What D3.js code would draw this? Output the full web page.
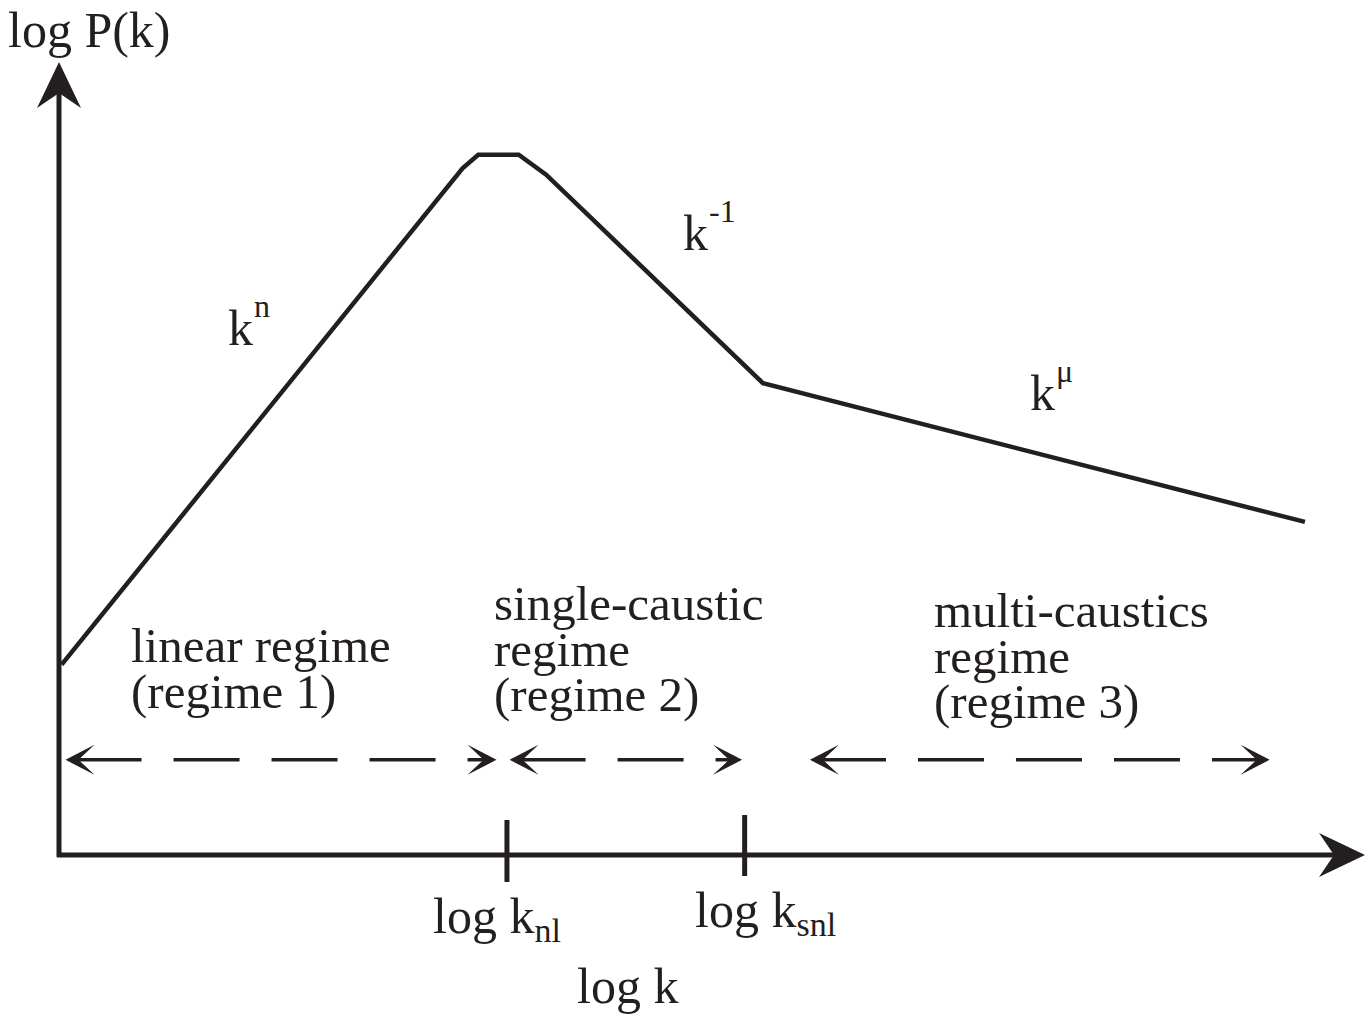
<!DOCTYPE html>
<html>
<head>
<meta charset="utf-8">
<script src="https://cdn.jsdelivr.net/npm/d3@7"></script>
<style>
  body { margin: 0; background: #fff; }
  text { font-family: "Liberation Serif", "Times New Roman", serif; fill: #231f20; }
</style>
</head>
<body>
<svg id="chart"></svg>
<script>
// schematic power spectrum, in arbitrary log units (0..100 on both axes)
const curveX = [0.2, 30.9, 32.1, 35.2, 37.3, 41.4, 53.9, 95.4];
const curveY = [24.0, 86.6, 88.3, 88.3, 85.8, 79.3, 59.5, 42.0];

const tickX = [34.3, 52.5];
const tickSubs = ["nl", "snl"];

const regimeFrom = [0.5, 34.5, 57.5];
const regimeTo = [33.5, 52.3, 92.7];
const regimeLevel = 12.0;
const regimeLines = [
  ["linear regime", "(regime 1)"],
  ["single-caustic", "regime", "(regime 2)"],
  ["multi-caustics", "regime", "(regime 3)"],
];

const slopeExps = ["n", "-1", "\u03BC"];

const ink = "#231f20";

const chart = {
  width: 1372,
  height: 1025,
  margin: { top: 62, right: 7, bottom: 170, left: 59 },
};

let x = d3.scaleLinear()
  .domain([0, 100])
  .range([chart.margin.left, chart.width - chart.margin.right]);

let y = d3.scaleLinear()
  .domain([0, 100])
  .range([chart.height - chart.margin.bottom, chart.margin.top]);

const svg = d3.select("#chart")
  .attr("width", chart.width)
  .attr("height", chart.height)
  .attr("viewBox", [0, 0, chart.width, chart.height]);

// barbed arrowhead pointing along angle (deg), tip at (tx, ty)
function arrowHead(g, tx, ty, angle, len, half, notch) {
  g.append("path")
    .attr("d", `M0,0 L${-len},${-half} L${-notch},0 L${-len},${half} Z`)
    .attr("transform", `translate(${tx},${ty}) rotate(${angle})`)
    .attr("fill", ink);
}

// axes
const axes = svg.append("g");
axes.append("line")
  .attr("x1", x(0)).attr("y1", y(0) + 2)
  .attr("x2", x(0)).attr("y2", y(100) + 25)
  .attr("stroke", ink).attr("stroke-width", 5);
axes.append("line")
  .attr("x1", x(0) - 2).attr("y1", y(0))
  .attr("x2", x(100) - 25).attr("y2", y(0))
  .attr("stroke", ink).attr("stroke-width", 5);
arrowHead(axes, x(0), y(100), -90, 46, 22, 31);
arrowHead(axes, x(100), y(0), 0, 46, 22, 31);

// tick marks on the k axis
svg.append("g")
  .selectAll("line")
  .data(tickX)
  .join("line")
  .attr("x1", d => x(d)).attr("x2", d => x(d))
  .attr("y1", (d, i) => y(0) - (i ? 40 : 35))
  .attr("y2", (d, i) => y(0) + (i ? 21 : 27))
  .attr("stroke", ink).attr("stroke-width", 5);

// the spectrum
const line = d3.line()
  .x(d => x(d[0]))
  .y(d => y(d[1]));

svg.append("path")
  .datum(d3.zip(curveX, curveY))
  .attr("d", line)
  .attr("fill", "none")
  .attr("stroke", ink)
  .attr("stroke-width", 4.5)
  .attr("stroke-linejoin", "miter");

// dashed double arrows for each regime
const regimes = svg.append("g");
regimeFrom.forEach((from, i) => {
  const x0 = x(from), x1 = x(regimeTo[i]), yy = y(regimeLevel);
  regimes.append("line")
    .attr("x1", x0 + 10).attr("x2", x1 - 10)
    .attr("y1", yy).attr("y2", yy)
    .attr("stroke", ink).attr("stroke-width", 3.5)
    .attr("stroke-dasharray", "66,32");
  arrowHead(regimes, x0, yy, 180, 29, 15, 13);
  arrowHead(regimes, x1, yy, 0, 29, 15, 13);
});

// regime labels
const labelPos = [[131, 662], [494, 620], [934, 627]];
regimeLines.forEach((lines, i) => {
  const t = svg.append("text")
    .attr("x", labelPos[i][0])
    .attr("y", labelPos[i][1])
    .attr("font-size", 49);
  lines.forEach((s, j) => {
    t.append("tspan")
      .attr("x", labelPos[i][0])
      .attr("dy", j ? 45.5 : 0)
      .text(s);
  });
});

// slope labels k^n, k^-1, k^mu
const slopePos = [[228, 345], [683, 250], [1030, 410]];
slopeExps.forEach((e, i) => {
  const t = svg.append("text")
    .attr("x", slopePos[i][0])
    .attr("y", slopePos[i][1])
    .attr("font-size", 50);
  t.append("tspan").text("k");
  t.append("tspan")
    .attr("dx", 1)
    .attr("dy", -28)
    .attr("font-size", 32)
    .text(e);
});

// axis titles
svg.append("text")
  .attr("x", 8).attr("y", 47)
  .attr("font-size", 50)
  .text("log P(k)");

svg.append("text")
  .attr("x", 577).attr("y", 1003)
  .attr("font-size", 50)
  .text("log k");

const tickTextPos = [[433, 933], [695, 927]];
tickSubs.forEach((s, i) => {
  const t = svg.append("text")
    .attr("x", tickTextPos[i][0])
    .attr("y", tickTextPos[i][1])
    .attr("font-size", 50);
  t.append("tspan").text("log k");
  t.append("tspan")
    .attr("dy", 9)
    .attr("font-size", 34)
    .text(s);
});
</script>
</body>
</html>
